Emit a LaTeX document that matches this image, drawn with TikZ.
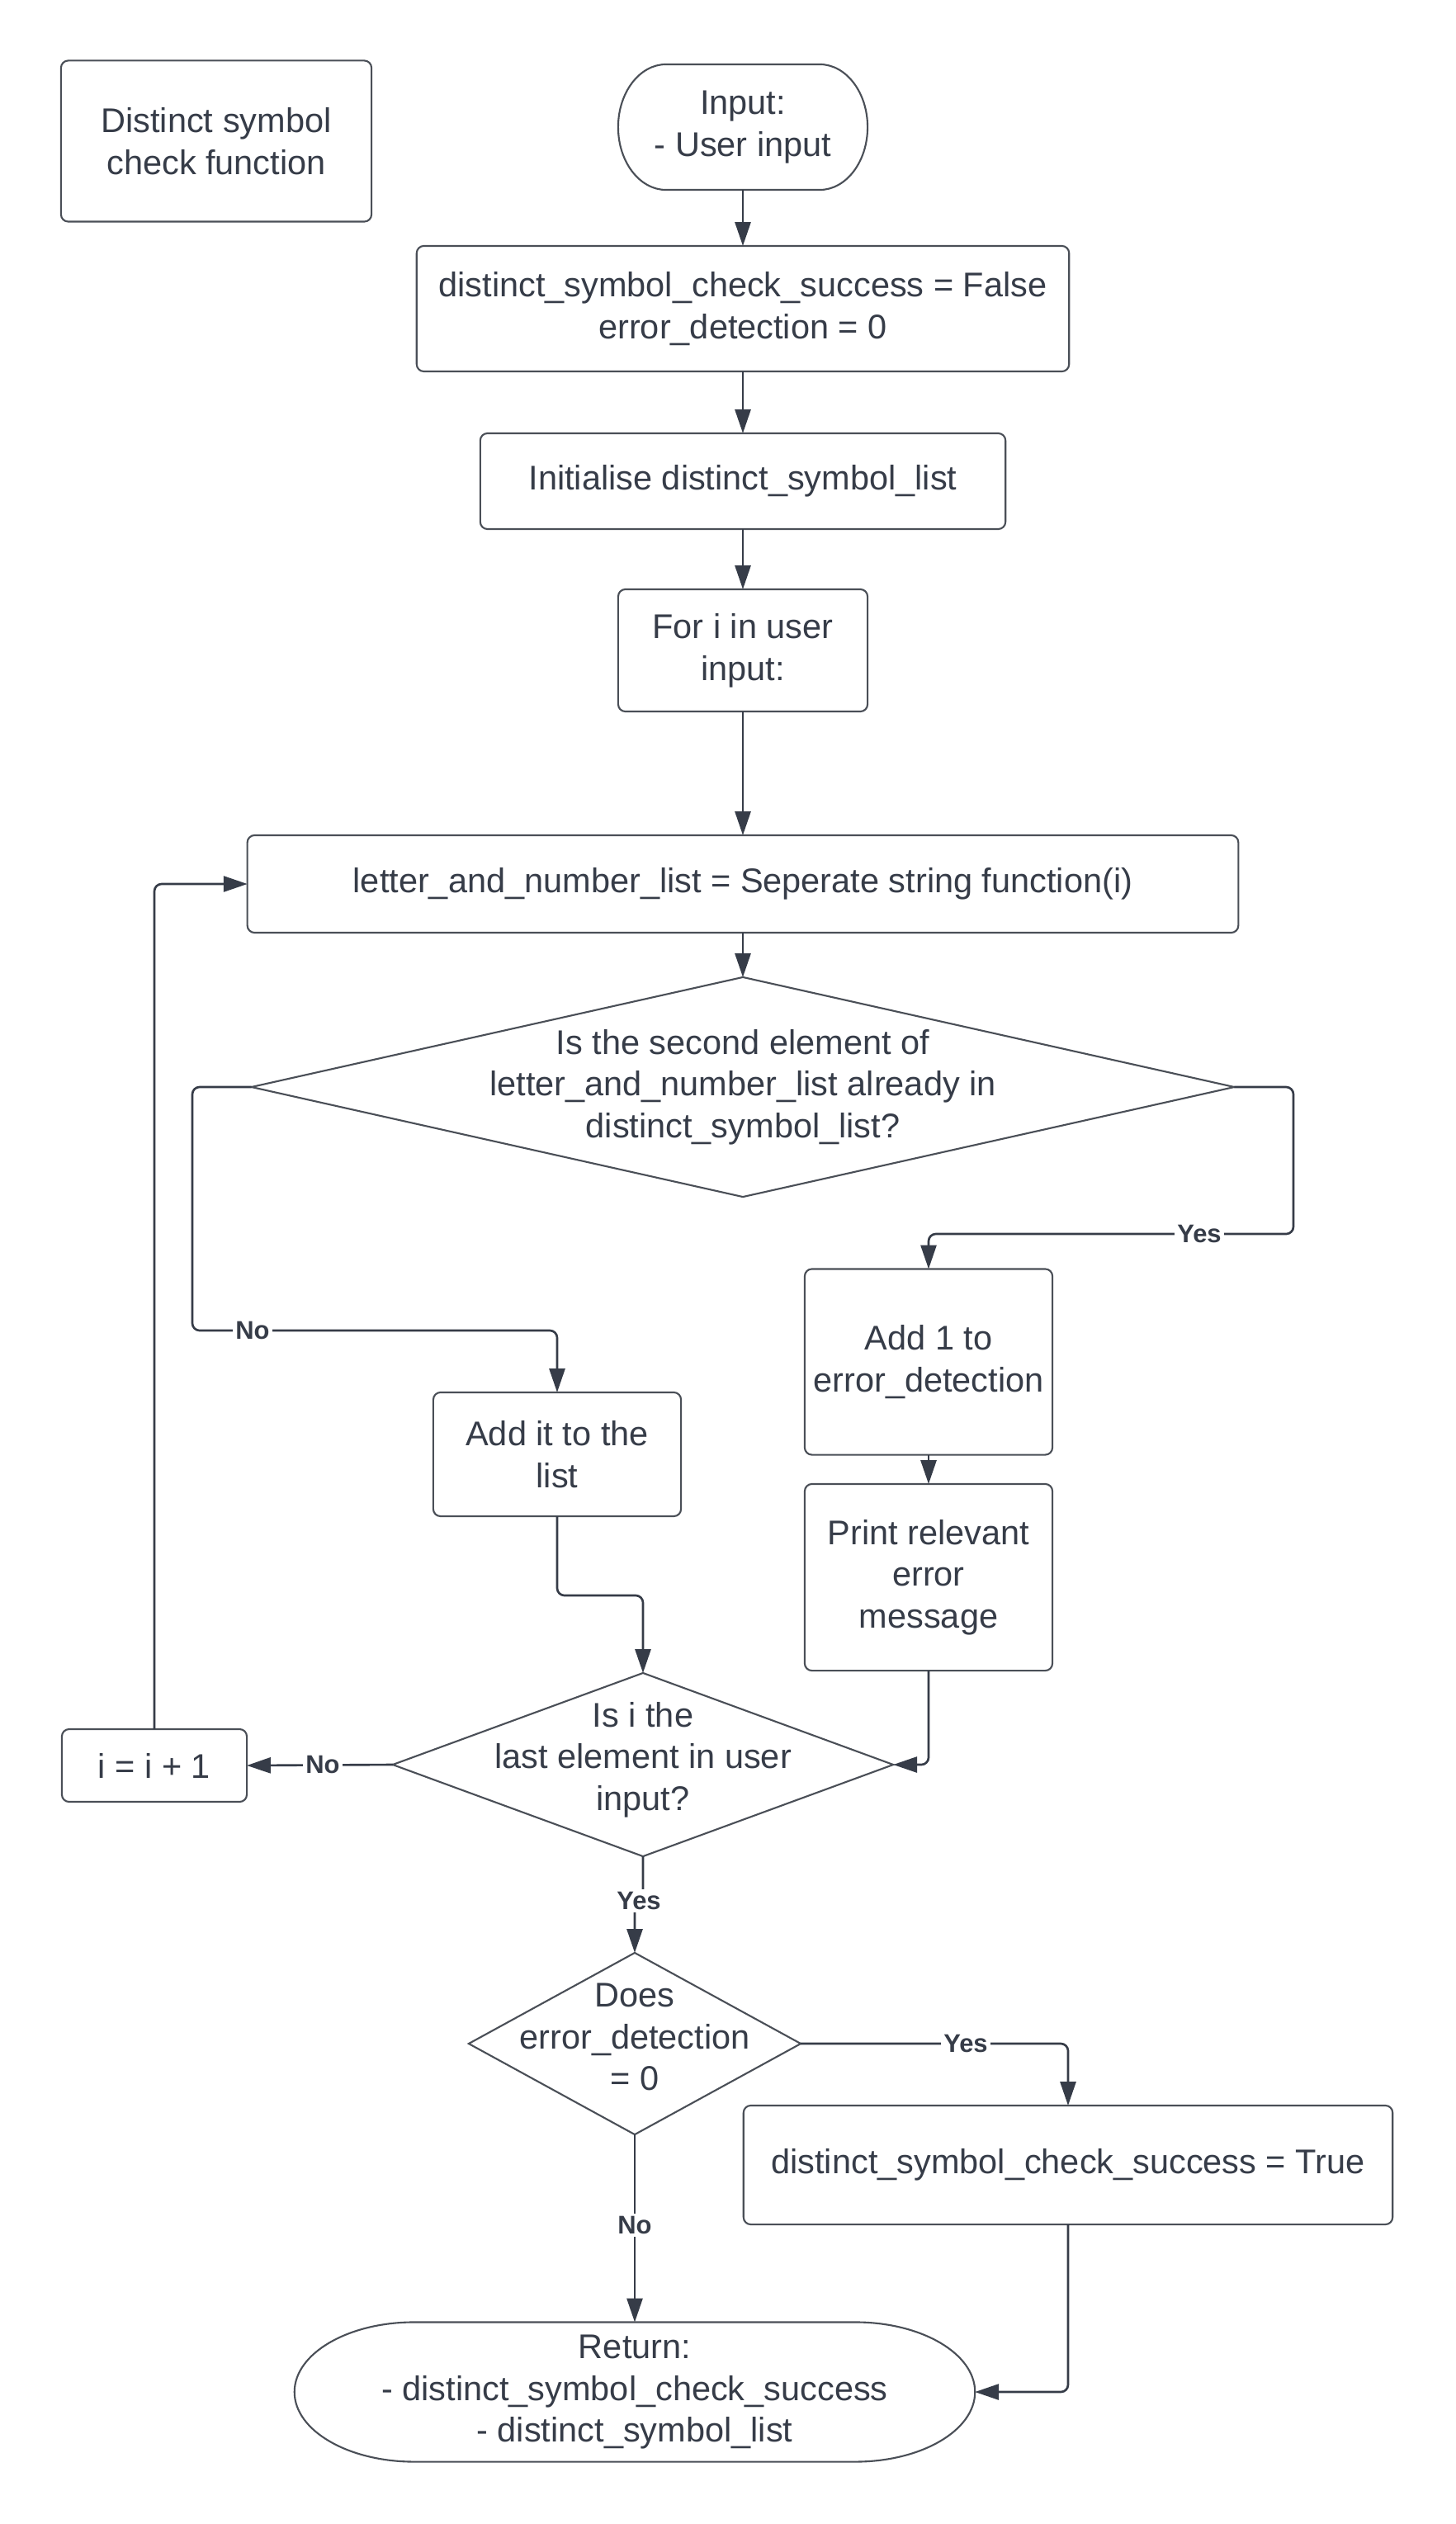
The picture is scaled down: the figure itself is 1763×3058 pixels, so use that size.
\documentclass[tikz,border=0pt]{standalone}
\usepackage{fontspec}
\setmainfont{Liberation Sans}
\usetikzlibrary{arrows.meta,shapes.geometric}
\definecolor{ink}{HTML}{363C48}
\definecolor{edge}{HTML}{4A4F57}
\begin{document}
\begin{tikzpicture}[x=0.01cm,y=-0.01cm,
  txt/.style={font=\fontsize{11.8}{14.4}\selectfont, text=ink, align=center},
  box/.style={txt, draw=edge, line width=0.6pt, rounded corners=2.5pt, inner sep=0pt, outer sep=0pt},
  plain/.style={txt, inner sep=0pt, outer sep=0pt},
  dec/.style={diamond, draw=edge, line width=0.6pt, inner sep=0pt, outer sep=0pt},
  outline/.style={draw=edge, line width=0.6pt},
  flow/.style={draw=ink, line width=0.75pt, rounded corners=2.5pt, -{Triangle[length=8.2pt,width=5.4pt]}},
  tag/.style={font=\bfseries\fontsize{8.8}{10}\selectfont, text=ink, fill=white, inner sep=1pt}
]
\fill[white] (0,0) rectangle (1763,3058);
\useasboundingbox (0,0) rectangle (1763,3058);

% title
\node[box, minimum width=3.76cm, minimum height=1.95cm] (title) at (262,171) {Distinct symbol\\check function};

% start terminal
\node[plain, minimum width=3.02cm, minimum height=1.52cm] (in) at (900,154) {Input:\\- User input};
\draw[outline] ([xshift=0.58cm]in.north west) -- ([xshift=-0.58cm]in.north east)
  arc[start angle=90, end angle=-90, x radius=0.58cm, y radius=0.76cm]
  -- ([xshift=0.58cm]in.south west)
  arc[start angle=270, end angle=90, x radius=0.58cm, y radius=0.76cm] -- cycle;

% process boxes
\node[box, minimum width=7.90cm, minimum height=1.52cm] (init) at (900,374) {distinct\_symbol\_check\_success = False\\error\_detection = 0};
\node[box, minimum width=6.36cm, minimum height=1.16cm] (list) at (900,583) {Initialise distinct\_symbol\_list};
\node[box, minimum width=3.02cm, minimum height=1.48cm] (loop) at (900,788) {For i in user\\input:};
\node[box, minimum width=12.00cm, minimum height=1.18cm] (split) at (900,1071) {letter\_and\_number\_list = Seperate string function(i)};

% first decision
\node[dec, minimum width=11.90cm, minimum height=2.66cm] (d1) at (900,1317) {};
\node[plain] at (d1) {Is the second element of\\letter\_and\_number\_list already in\\distinct\_symbol\_list?};

\node[box, minimum width=3.00cm, minimum height=2.25cm] (add1) at (1125,1650) {Add 1 to\\error\_detection};
\node[box, minimum width=3.00cm, minimum height=1.50cm] (addl) at (675,1762) {Add it to the\\list};
\node[box, minimum width=3.00cm, minimum height=2.26cm] (print) at (1125,1911) {Print relevant\\error\\message};

% second decision
\node[dec, minimum width=6.06cm, minimum height=2.22cm] (d2) at (779,2138) {};
\node[plain] at ([yshift=0.06cm]d2) {Is i the\\last element in user\\input?};
\node[box, minimum width=2.24cm, minimum height=0.88cm] (inc) at (187,2139) {i = i + 1};

% third decision
\node[dec, minimum width=4.02cm, minimum height=2.20cm] (d3) at (769,2476) {};
\node[plain] at ([yshift=0.08cm]d3) {Does\\error\_detection\\= 0};
\node[box, minimum width=7.86cm, minimum height=1.44cm] (ok) at (1294,2623) {distinct\_symbol\_check\_success = True};

% end terminal
\node[plain, minimum width=8.24cm, minimum height=1.69cm] (ret) at (769,2898) {Return:\\- distinct\_symbol\_check\_success\\- distinct\_symbol\_list};
\draw[outline] ([xshift=1.45cm]ret.north west) -- ([xshift=-1.45cm]ret.north east)
  arc[start angle=90, end angle=-90, x radius=1.45cm, y radius=0.845cm]
  -- ([xshift=1.45cm]ret.south west)
  arc[start angle=270, end angle=90, x radius=1.45cm, y radius=0.845cm] -- cycle;

% connectors
\draw[flow] (in.south) -- (init.north);
\draw[flow] (init.south) -- (list.north);
\draw[flow] (list.south) -- (loop.north);
\draw[flow] (loop.south) -- (split.north);
\draw[flow] (split.south) -- (d1.north);
\draw[flow] (d1.west) -| (233,1612) -| (addl.north);
\draw[flow] (d1.east) -| (1567,1495) -| (add1.north);
\draw[flow] (add1.south) -- (print.north);
\draw[flow] (addl.south) -- (675,1933) -| (d2.north);
\draw[flow] (print.south) |- (d2.east);
\draw[flow] (d2.west) -- (inc.east);
\draw[flow] (inc.north) |- (split.west);
\draw[flow] (d2.south) -- (779,2303) -- (769,2303) -- (d3.north);
\draw[flow] (d3.east) -| (ok.north);
\draw[flow] (ok.south) |- (ret.east);
\draw[flow] (d3.south) -- (ret.north);

% branch labels
\node[tag] at (306,1612) {No};
\node[tag] at (1453,1495) {Yes};
\node[tag] at (391,2138) {No};
\node[tag] at (774,2303) {Yes};
\node[tag] at (1170,2476) {Yes};
\node[tag] at (769,2696) {No};
\end{tikzpicture}
\end{document}
